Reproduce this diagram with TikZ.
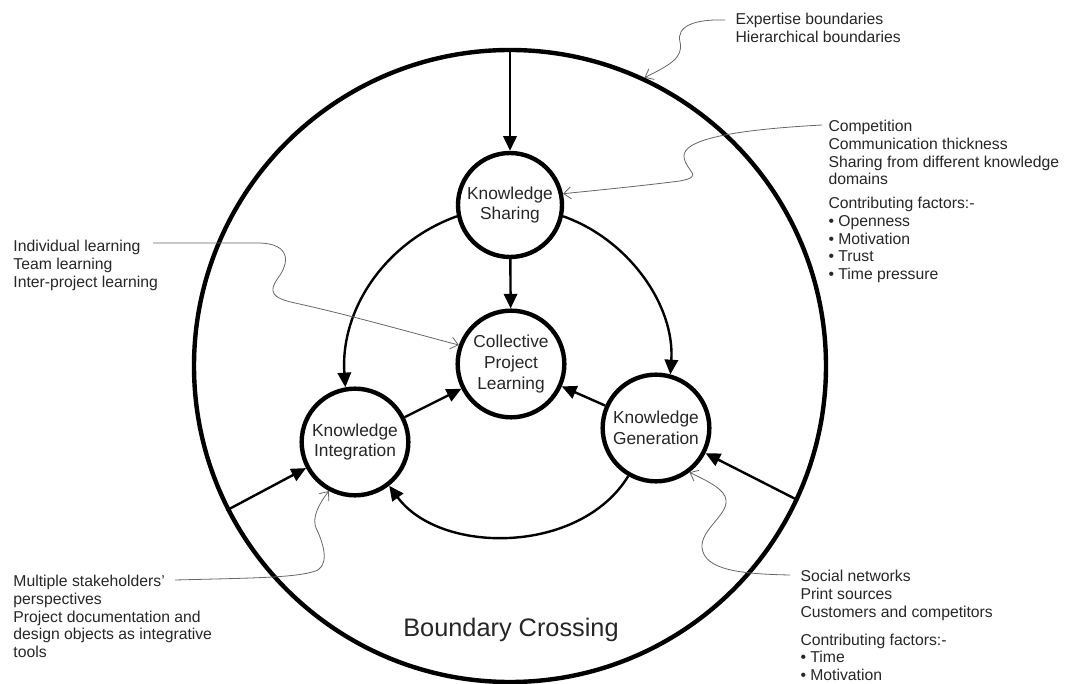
\documentclass[tikz,border=0pt]{standalone}
\usepackage{fontspec}
\setmainfont{Liberation Sans}
\usetikzlibrary{arrows.meta}

\tikzset{every picture/.style={line width=0.75pt}}
\tikzset{
  kcircle/.style={circle, draw, line width=3.3pt, minimum size=80pt, inner sep=0pt, align=center, text=black!85, font=\fontsize{13}{15.5}\selectfont},
  flow/.style={line width=1.8pt, -{Triangle[length=11pt,width=10pt]}},
  callout/.style={draw=black!60, line width=0.6pt, -{Straight Barb[length=5.5pt,width=9pt]}},
  notetext/.style={anchor=north west, inner sep=0.75pt, align=left, text=black!85, font=\fontsize{11.8}{13.2}\selectfont}
}

\begin{document}
\begin{tikzpicture}[x=0.75pt,y=0.75pt,yscale=-1,xscale=1]
    \useasboundingbox (0,0) rectangle (1067,684);

    %Shape: Circle [boundary]
    \node [circle, draw, line width=3.3pt, minimum size=474pt, inner sep=0pt] (bnd) at (510,366) {};

    %Shape: Circle [knowledge nodes]
    \node [kcircle, minimum size=78pt] (share) at (510,205) {Knowledge\\Sharing};
    \node [kcircle] (coll) at (511,364) {Collective\\Project\\Learning};
    \node [kcircle] (integ) at (355,442) {Knowledge\\Integration};
    \node [kcircle] (gen) at (656,428) {Knowledge\\Generation};

    %Straight Lines
    \draw [flow] (bnd.north) -- (share.north);
    \draw [flow] (share) -- (coll);
    \draw [flow] (integ) -- (coll);
    \draw [flow] (gen) -- (coll);
    \draw [flow] (bnd.207) -- (integ);
    \draw [flow] (bnd.-25) -- (gen);
    %Curve Lines
    \draw [flow] (share.192) .. controls (385,242) and (340,310) .. (integ.100);
    \draw [flow] (share.-12) .. controls (628,239) and (675,305) .. (gen.75);
    \draw [flow] (gen.240) .. controls (580,555) and (440,555) .. (integ.-52);

    % Text Node
    \node [notetext] (expt) at (734,12) {Expertise boundaries\\Hierarchical boundaries};
    % Text Node
    \node [notetext] (comp) at (827,119) {Competition\\Communication thickness\\Sharing from different knowledge\\domains\\[5pt]Contributing factors:-\\• Openness\\• Motivation\\• Trust\\• Time pressure};
    % Text Node
    \node [notetext] (indv) at (12,239) {Individual learning\\Team learning\\Inter-project learning};
    % Text Node
    \node [notetext] (mult) at (12,574) {Multiple stakeholders'\\perspectives\\Project documentation and\\design objects as integrative\\tools};
    % Text Node
    \node [notetext] (soc) at (799,569) {Social networks\\Print sources\\Customers and competitors\\[8pt]Contributing factors:-\\• Time\\• Motivation};
    % Text Node
    \node [text=black!85, font=\fontsize{19}{22}\selectfont] (bcross) at (511,630) {Boundary Crossing};

    %Callout ends
    \coordinate (exptend) at (725,20);
    \coordinate (compend) at (822,125);
    \coordinate (indvend) at (153,243);
    \coordinate (multend) at (175,580);
    \coordinate (socend) at (790,575);

    %Curve Lines [callouts]
    \draw [callout] (exptend) .. controls (695,19) and (676,26) .. (680,42) .. controls (684,58) and (668,66) .. (bnd.65);
    \draw [callout] (compend) .. controls (730,130) and (682,140) .. (684,157) .. controls (686,172) and (705,176) .. (680,181) .. controls (640,186) and (600,190) .. (share.12);
    \draw [callout] (indvend) -- (260,243) .. controls (290,244) and (290,262) .. (278,278) .. controls (268,292) and (272,298) .. (295,303) .. controls (350,315) and (420,335) .. (coll.160);
    \draw [callout] (multend) .. controls (250,578) and (300,578) .. (318,570) .. controls (330,562) and (322,540) .. (316,528) .. controls (312,518) and (318,505) .. (integ.242);
    \draw [callout] (socend) .. controls (740,574) and (705,570) .. (702,548) .. controls (700,530) and (728,515) .. (726,500) .. controls (725,490) and (710,482) .. (gen.-53);

\end{tikzpicture}
\end{document}
